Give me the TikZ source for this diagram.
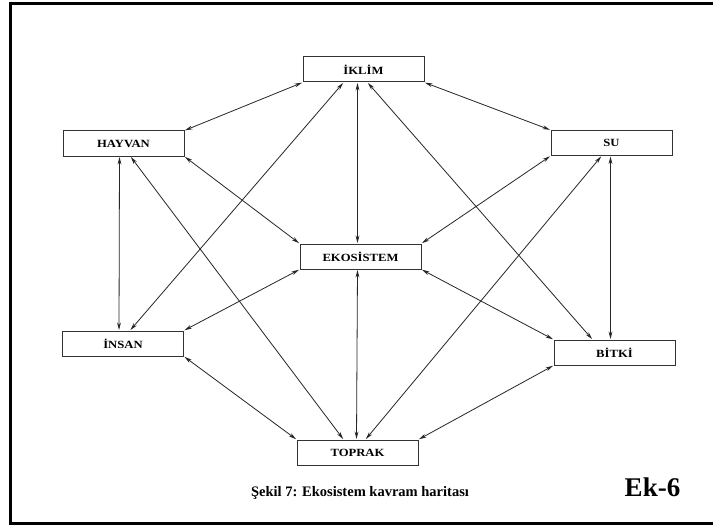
\documentclass[tikz,border=0pt]{standalone}
\usepackage{fontspec}
\setmainfont{Liberation Serif}
\newfontfamily\boxfont[FakeStretch=1.15]{Liberation Serif}
\usetikzlibrary{arrows.meta,calc}
\tikzset{
  concept/.style={draw=black!80, line width=1pt, fill=white, minimum width=121pt, minimum height=25pt, inner sep=0pt, font=\boxfont\fontsize{11}{13}\selectfont\bfseries},
  link/.style={draw=black!85, line width=0.8pt, {Stealth[length=7.5pt,width=3.8pt]}-{Stealth[length=7.5pt,width=3.8pt]}, shorten <=0.5pt, shorten >=0.5pt},
  frameline/.style={draw=black, line width=3.5pt}
}
\begin{document}
\begin{tikzpicture}[x=1pt,y=-1pt]
\useasboundingbox (0,0) rectangle (713,527);
\fill[white] (0,0) rectangle (713,527);
\draw[frameline] (720,3.5) -- (10.5,3.5) -- (10.5,523.5) -- (720,523.5);

\node[concept] (ikl) at (363.5,69.5) {İKLİM};
\node[concept] (hay) at (123.5,143.5) {HAYVAN};
\node[concept] (su)  at (611.5,143) {SU};
\node[concept] (eko) at (360.5,256.5) {EKOSİSTEM};
\node[concept] (ins) at (123,343.5) {İNSAN};
\node[concept] (bit) at (614.5,352.5) {BİTKİ};
\node[concept] (top) at (357.5,452.5) {TOPRAK};

\draw[link] (ikl.south west) -- (hay.north east);
\draw[link] (ikl.south east) -- (su.north west);
\draw[link] ($(ikl.south)+(-6,0)$) -- ($(eko.north)+(-3,0)$);
\draw[link] ($(ikl.south)+(-20,0)$) -- ($(ins.north)+(7,0)$);
\draw[link] ($(ikl.south)+(4,0)$) -- ($(bit.north)+(-22,0)$);
\draw[link] (hay.south east) -- (eko.north west);
\draw[link] ($(hay.south)+(-4,0)$) -- ($(ins.north)+(-4,0)$);
\draw[link] ($(hay.south)+(7,0)$) -- ($(top.north)+(-14,0)$);
\draw[link] (su.south west) -- (eko.north east);
\draw[link] ($(su.south)+(-1,0)$) -- ($(bit.north)+(-4,0)$);
\draw[link] ($(su.south)+(-10,0)$) -- ($(top.north)+(8,0)$);
\draw[link] (eko.south west) -- (ins.north east);
\draw[link] (eko.south east) -- (bit.north west);
\draw[link] ($(eko.south)+(-3,0)$) -- ($(top.north)+(-1,0)$);
\draw[link] (ins.south east) -- (top.north west);
\draw[link] (bit.south west) -- (top.north east);

\node[font=\fontsize{14.5}{16}\selectfont\bfseries] (cap) at (360,493) {Şekil 7: Ekosistem kavram haritası};
\node[font=\fontsize{27}{30}\selectfont\bfseries] (ek) at (652.5,487) {Ek-6};
\end{tikzpicture}
\end{document}
